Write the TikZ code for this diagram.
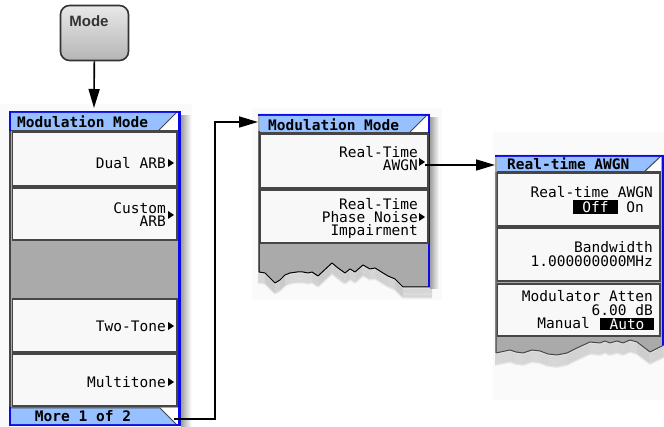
\documentclass[tikz,border=0pt]{standalone}
\usepackage{fontspec}
\setmainfont{Liberation Sans}
\newfontfamily\scrfont{DejaVu Sans Mono}
\usetikzlibrary{arrows.meta}
\definecolor{keyblue}{RGB}{10,10,235}
\definecolor{titleblue}{RGB}{150,192,255}
\definecolor{keygray}{RGB}{170,170,170}
\definecolor{keywhite}{RGB}{248,248,248}
\definecolor{keyedge}{RGB}{70,70,70}
\tikzset{
  softkey/.style={fill=keywhite,draw=keyedge,line width=1.3pt},
  keytext/.style={font=\scrfont\fontsize{14.5}{13}\selectfont,align=right,inner sep=0pt,anchor=east},
  titletext/.style={font=\scrfont\bfseries\fontsize{14.5}{13}\selectfont,inner sep=0pt},
  invkey/.style={keytext,anchor=center,fill=black,text=white,inner ysep=1pt},
  flow/.style={line width=1.6pt,-{Triangle[length=19pt,width=11pt]}}
}
\begin{document}
\begin{tikzpicture}[x=1pt,y=-1pt]
\useasboundingbox (0,0) rectangle (664,427);
\begin{scope}
\node[draw=black!80,line width=1.6pt,rounded corners=9pt,top color=gray!18,bottom color=gray!58,
  minimum width=68pt,minimum height=55pt,inner sep=0pt] (mode) at (94.5,33) {};
\node[font=\bfseries\fontsize{15}{16}\selectfont,text=black!80,inner sep=0pt] (modelabel) at (89,21.5) {Mode};
\end{scope}
\begin{scope}
\fill[gray!4] (0,104) rectangle (192,427);
\shade[left color=gray!75,right color=gray!4] (181,116) rectangle (191,427);
\fill[keyblue] (9,111) rectangle (181,426);
\fill[keygray] (11,113) rectangle (178,424);
\fill[white] (11,113) rectangle (178,130);
\fill[titleblue] (11,113)--(176,113)--(159,130)--(11,130)--cycle;
\draw[keyedge,line width=1pt] (159,130)--(176,113);
\draw[keyedge,line width=1.3pt] (11,130.5)--(178,130.5);
\draw[keyedge,line width=2pt] (10,131)--(10,407);
\foreach \a/\b in {132/186,188/240,299/352,354/406}
  \draw[softkey] (12.5,\a) rectangle (177,\b);
\fill[white] (11,408) rectangle (178,424);
\fill[titleblue] (11,408)--(160,408)--(176,424)--(11,424)--cycle;
\draw[keyedge,line width=1pt] (11,408)--(160,408)--(176,424);
\node[titletext,anchor=west] (title1) at (17,121.5) {Modulation Mode};
\node[keytext] (dualarb) at (166,163) {Dual ARB};
\node[keytext] (customarb) at (166,214.5) {Custom\\ARB};
\node[keytext] (twotone) at (166,326) {Two-Tone};
\node[keytext] (multitone) at (166,382) {Multitone};
\node[titletext] (more1) at (83,416.5) {More 1 of 2};
\foreach \y in {163,215,326,382}
  \fill (168,\y-4)--++(6,4)--++(-6,4)--cycle;
\coordinate (menu1in) at (94,108);
\coordinate (morekey) at (174,419);
\end{scope}
\begin{scope}
\fill[gray!4] (252,108) rectangle (442,300);
\foreach \d in {1,...,8}
  \draw[black,opacity=0.07,line width=2.5pt,line join=round,yshift={-1.3*\d}]
    (258,272)--(265,273)--(275,283)--(280,280)--(285,275)--(290,273)--(297,272)--(303,272)--(308,273)--(312,272)--(318,276)--(332,263)--(338,268)--(345,273)--(350,269)--(355,272)--(363,265)--(370,269)--(375,268)--(383,273)--(388,276)--(395,279)--(403,287)--(432,287);
\shade[left color=gray!75,right color=gray!4] (430,118) rectangle (439,289);
\fill[keygray] (258,114)--(430,114)--(430,287)--(403,287)--(395,279)--(388,276)--(383,273)--(375,268)--(370,269)--(363,265)--(355,272)--(350,269)--(345,273)--(338,268)--(332,263)--(318,276)--(312,272)--(308,273)--(303,272)--(297,272)--(290,273)--(285,275)--(280,280)--(275,283)--(265,273)--(258,272)--cycle;
\draw[black,line width=1pt,line join=round] (259,131)--(259,272)--(265,273)--(275,283)--(280,280)--(285,275)--(290,273)--(297,272)--(303,272)--(308,273)--(312,272)--(318,276)--(332,263)--(338,268)--(345,273)--(350,269)--(355,272)--(363,265)--(370,269)--(375,268)--(383,273)--(388,276)--(395,279)--(403,287)--(430,287);
\draw[keyblue,line width=2.2pt] (258,115)--(429,115)--(429,287);
\fill[white] (260,116) rectangle (428,132);
\fill[titleblue] (260,116)--(426,116)--(410,132)--(260,132)--cycle;
\draw[keyedge,line width=1pt] (410,132)--(426,116);
\draw[keyedge,line width=1.3pt] (260,132.5)--(428,132.5);
\foreach \a/\b in {134/188,190/243}
  \draw[softkey] (260.5,\a) rectangle (428,\b);
\node[titletext,anchor=west] (title2) at (268,124.5) {Modulation Mode};
\node[keytext] (rtawgn) at (418,158.5) {Real-Time\\AWGN};
\node[keytext] (rtphase) at (418,218) {Real-Time\\Phase Noise\\Impairment};
\foreach \y in {162,217}
  \fill (419,\y-4)--++(6,4)--++(-6,4)--cycle;
\coordinate (menu2in) at (258,122);
\coordinate (awgnkey) at (425,165);
\end{scope}
\begin{scope}
\fill[gray!4] (493,132) rectangle (664,400);
\foreach \d in {1,...,9}
  \draw[black,opacity=0.07,line width=2.5pt,line join=round,yshift={-1.3*\d}]
    (495,353)--(510,350)--(516,352)--(523,353)--(532,350)--(540,351)--(548,354)--(557,355)--(567,353)--(577,348)--(590,342)--(600,343)--(605,341)--(610,343)--(617,341)--(623,343)--(630,340)--(637,342)--(650,352)--(664,345);
\fill[keygray] (495,155)--(664,155)--(664,345)--(650,352)--(637,342)--(630,340)--(623,343)--(617,341)--(610,343)--(605,341)--(600,343)--(590,342)--(577,348)--(567,353)--(557,355)--(548,354)--(540,351)--(532,350)--(523,353)--(516,352)--(510,350)--(495,353)--cycle;
\draw[keyedge,line width=1pt,line join=round] (496,172)--(496,353)--(510,350)--(516,352)--(523,353)--(532,350)--(540,351)--(548,354)--(557,355)--(567,353)--(577,348)--(590,342)--(600,343)--(605,341)--(610,343)--(617,341)--(623,343)--(630,340)--(637,342)--(650,352)--(664,345);
\draw[keyblue,line width=2.2pt] (495,156)--(664,156);
\draw[keyblue,line width=2.2pt] (663,156)--(663,345);
\fill[white] (497,157) rectangle (661,171);
\fill[titleblue] (497,157)--(660,157)--(645,171)--(497,171)--cycle;
\draw[keyedge,line width=1pt] (645,171)--(660,157);
\draw[keyedge,line width=1.3pt] (497,171.5)--(661,171.5);
\foreach \a/\b in {173/226,228/281,284/336}
  \draw[softkey] (497.5,\a) rectangle (660,\b);
\node[titletext,anchor=west] (title3) at (507,163.5) {Real-time AWGN};
\node[keytext] (awgnstate) at (653,192) {Real-time AWGN};
\node[invkey,minimum width=45pt,minimum height=11pt] (awgnoff) at (595.5,207) {Off};
\node[keytext] (awgnon) at (644,207) {On};
\node[keytext] (bandwidth) at (653,254) {Bandwidth\\[1pt]1.000000000MHz};
\node[keytext] (modatten) at (653,303) {Modulator Atten\\[1pt]6.00 dB};
\node[keytext] (attenmanual) at (590,323) {Manual};
\node[invkey,minimum width=54pt,minimum height=12pt] (attenauto) at (627,324) {Auto};
\coordinate (menu3in) at (495,165);
\end{scope}
\draw[flow] (mode) -- (menu1in);
\draw[flow] (morekey) -- ++(41,0) |- (menu2in);
\draw[flow] (awgnkey) -- (menu3in);
\end{tikzpicture}
\end{document}
